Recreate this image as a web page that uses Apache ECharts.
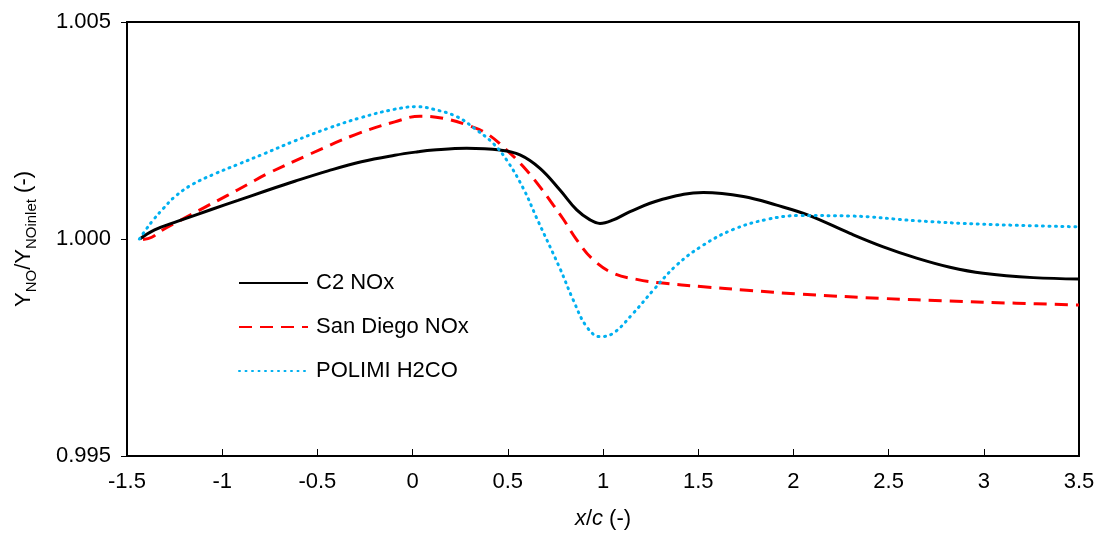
<!DOCTYPE html>
<html>
<head>
<meta charset="utf-8">
<script src="https://cdn.jsdelivr.net/npm/echarts@6/dist/echarts.min.js"></script>
<style>
  html, body { margin: 0; padding: 0; background: #fff; }
  #chart { width: 1099px; height: 539px; }
</style>
</head>
<body>
<div id="chart"></div>
<script>
const seriesNames = ['C2 NOx', 'San Diego NOx', 'POLIMI H2CO']

const c2X = [-1.433, -1.355, -1.232, -1.057, -0.917, -0.777, -0.619, -0.444, -0.269, -0.094, 0.028, 0.109, 0.284, 0.459, 0.564, 0.669, 0.774, 0.862, 0.932, 0.984, 1.054, 1.142, 1.30, 1.527, 1.737, 1.912, 2.078, 2.297, 2.472, 2.647, 2.822, 2.997, 3.26, 3.5]
const c2Y = [1.0000, 1.00021, 1.00041, 1.00068, 1.00089, 1.0011, 1.00133, 1.00157, 1.00178, 1.00193, 1.00201, 1.00205, 1.00209, 1.00205, 1.00194, 1.00163, 1.00113, 1.00067, 1.00044, 1.00036, 1.00044, 1.00063, 1.0009, 1.00107, 1.00098, 1.00078, 1.00055, 1.00013, 0.99982, 0.99956, 0.99935, 0.99921, 0.99911, 0.99908]

const sdX = [-1.416, -1.37, -1.32, -1.215, -1.092, -0.97, -0.865, -0.76, -0.532, -0.304, -0.094, 0.039, 0.161, 0.284, 0.389, 0.494, 0.581, 0.669, 0.739, 0.791, 0.862, 0.949, 1.054, 1.177, 1.30, 1.527, 1.755, 2.035, 2.472, 2.822, 3.17, 3.5]
const sdY = [0.99999, 1.00004, 1.00019, 1.00044, 1.00073, 1.00101, 1.00126, 1.00151, 1.00197, 1.0024, 1.0027, 1.00283, 1.00278, 1.00263, 1.00243, 1.00205, 1.00167, 1.0012, 1.00078, 1.00046, 0.99998, 0.99952, 0.99921, 0.99907, 0.99899, 0.9989, 0.99882, 0.99873, 0.99863, 0.99857, 0.99852, 0.99848]

const poX = [-1.435, -1.40, -1.36, -1.31, -1.25, -1.16, -1.04, -0.917, -0.777, -0.619, -0.444, -0.269, -0.094, 0.021, 0.109, 0.232, 0.337, 0.424, 0.494, 0.581, 0.652, 0.774, 0.844, 0.914, 0.984, 1.054, 1.159, 1.264, 1.387, 1.527, 1.684, 1.86, 2.035, 2.297, 2.647, 2.997, 3.5]
const poY = [1.0000, 1.00022, 1.00045, 1.0007, 1.00097, 1.00125, 1.0015, 1.00172, 1.00197, 1.00226, 1.00255, 1.0028, 1.00299, 1.00305, 1.00299, 1.00282, 1.00251, 1.0022, 1.00182, 1.00117, 1.00048, 0.99932, 0.99859, 0.99798, 0.99775, 0.99783, 0.99829, 0.99882, 0.9994, 0.99986, 1.00022, 1.00045, 1.00054, 1.00053, 1.00042, 1.00034, 1.00028]

const font = 'Liberation Sans, Arial, sans-serif'
const pairs = (xs, ys) => xs.map((x, i) => [x, ys[i]])

const myChart = echarts.init(document.getElementById('chart'))
myChart.setOption({
  animation: false,
  textStyle: { fontFamily: font, color: '#000' },
  grid: { left: 127, right: 20, top: 22, bottom: 83, show: true, borderColor: '#000', borderWidth: 2 },
  legend: {
    orient: 'vertical',
    left: 238,
    top: 272,
    itemWidth: 69,
    itemHeight: 14,
    itemGap: 22,
    padding: 0,
    data: seriesNames,
    itemStyle: { opacity: 0 },
    textStyle: { fontSize: 22, fontFamily: font, color: '#000', padding: [0, 0, 0, 3] },
  },
  xAxis: {
    type: 'value',
    min: -1.5,
    max: 3.5,
    interval: 0.5,
    splitLine: { show: false },
    axisLine: { lineStyle: { color: '#000', width: 2 } },
    axisTick: { inside: true, length: 7, lineStyle: { color: '#000', width: 1 } },
    axisLabel: { fontSize: 22, color: '#000', margin: 15, fontFamily: font },
    name: '{i|x}{n|/}{i|c}{n| (-)}',
    nameLocation: 'middle',
    nameGap: 52,
    nameTextStyle: {
      rich: {
        i: { fontSize: 22, fontStyle: 'italic', fontFamily: font, color: '#000' },
        n: { fontSize: 22, fontFamily: font, color: '#000' },
      }
    },
  },
  yAxis: {
    type: 'value',
    min: 0.995,
    max: 1.005,
    interval: 0.005,
    splitLine: { show: false },
    axisLine: { show: true, onZero: false, lineStyle: { color: '#000', width: 2 } },
    axisTick: { show: true, length: 6, lineStyle: { color: '#000', width: 1 } },
    axisLabel: {
      fontSize: 22, color: '#000', margin: 16, fontFamily: font,
      formatter(value) { return value.toFixed(3) }
    },
    name: '{m|Y}{s|NO}{m|/Y}{s|NOinlet}{m| (-)}',
    nameLocation: 'middle',
    nameRotate: 90,
    nameGap: 88,
    nameTextStyle: {
      rich: {
        m: { fontSize: 22, lineHeight: 30, fontFamily: font, color: '#000' },
        s: { fontSize: 15, verticalAlign: 'bottom', fontFamily: font, color: '#000' },
      }
    },
  },
  series: [
    {
      name: seriesNames[0],
      type: 'line',
      data: pairs(c2X, c2Y),
      smooth: 0.4,
      symbol: 'none',
      lineStyle: { color: '#000', width: 3 },
      itemStyle: { color: '#000' },
      z: 3,
    },
    {
      name: seriesNames[1],
      type: 'line',
      data: pairs(sdX, sdY),
      smooth: 0.4,
      symbol: 'none',
      lineStyle: { color: '#ff0000', width: 3, type: [13, 8] },
      itemStyle: { color: '#ff0000' },
      z: 2,
    },
    {
      name: seriesNames[2],
      type: 'line',
      data: pairs(poX, poY),
      smooth: 0.4,
      symbol: 'none',
      lineStyle: { color: '#00b0f0', width: 3, type: [1, 5.5], cap: 'round' },
      itemStyle: { color: '#00b0f0' },
      z: 4,
    },
  ],
})
</script>
</body>
</html>
